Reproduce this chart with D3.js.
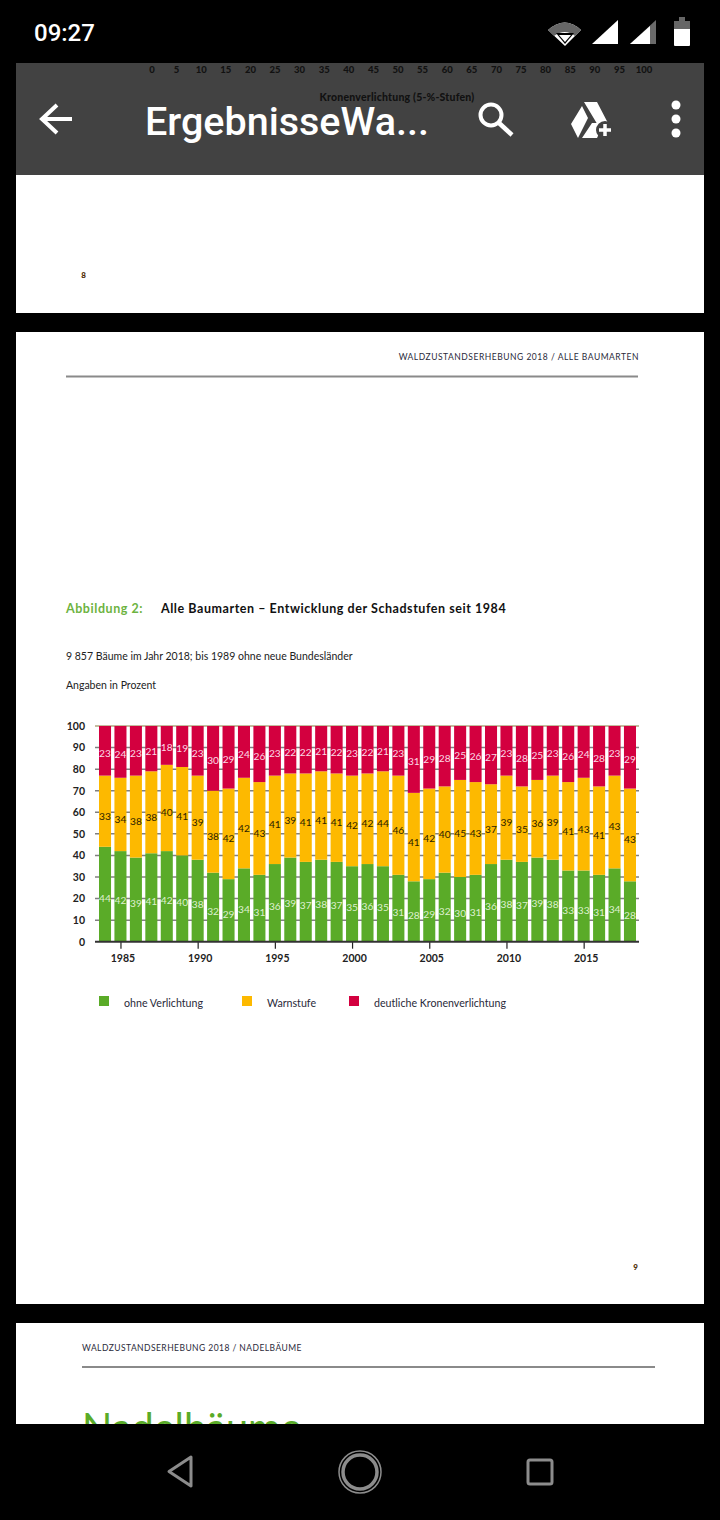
<!DOCTYPE html>
<html lang="de">
<head>
    <meta charset="UTF-8">
    <title>Alle Baumarten</title>
    <style>
        html, body { margin: 0; padding: 0; background: #000; }
        svg { display: block; }
        text { font-family: 'Lato', sans-serif; }
        .domain { display: none; }
    </style>
</head>
<body>
<script src="https://d3js.org/d3.v7.min.js"></script>
<script>

    const years = d3.range(1984, 2019);
    const ohneVerlichtung = [44, 42, 39, 41, 42, 40, 38, 32, 29, 34, 31, 36, 39, 37, 38, 37, 35, 36, 35, 31, 28, 29, 32, 30, 31, 36, 38, 37, 39, 38, 33, 33, 31, 34, 28];
    const warnstufe = [33, 34, 38, 38, 40, 41, 39, 38, 42, 42, 43, 41, 39, 41, 41, 41, 42, 42, 44, 46, 41, 42, 40, 45, 43, 37, 39, 35, 36, 39, 41, 43, 41, 43, 43];
    const deutlich = [23, 24, 23, 21, 18, 19, 23, 30, 29, 24, 26, 23, 22, 22, 21, 22, 23, 22, 21, 23, 31, 29, 28, 25, 26, 27, 23, 28, 25, 23, 26, 24, 28, 23, 29];
    const seriesNames = ['ohne Verlichtung', 'Warnstufe', 'deutliche Kronenverlichtung'];
    const seriesColours = ['#5aab28', '#fdb900', '#d3003f'];
    const labelColours = ['#dff0d0', '#2b2200', '#fbdbe6'];
    const labelNudge = [7.5, 8.5, 6];
    const yTicks = [0, 10, 20, 30, 40, 50, 60, 70, 80, 90, 100];
    const xTicks = [1985, 1990, 1995, 2000, 2005, 2010, 2015];
    const strayTicks = [0, 5, 10, 15, 20, 25, 30, 35, 40, 45, 50, 55, 60, 65, 70, 75, 80, 85, 90, 95, 100];

    const svg = d3.select('body').append('svg')
        .attr('width', 720)
        .attr('height', 1520);

    svg.append('rect').attr('width', 720).attr('height', 1520).attr('fill', '#000');

    function addText(parent, str, x, y, size, colour, weight, anchor, spacing) {
        return parent.append('text')
            .attr('x', x)
            .attr('y', y)
            .attr('font-size', size)
            .attr('fill', colour)
            .attr('font-weight', weight || 400)
            .attr('text-anchor', anchor || 'start')
            .attr('letter-spacing', spacing || 0)
            .text(str);
    }

    // pdf pages
    svg.append('rect').attr('x', 16).attr('y', 175).attr('width', 688).attr('height', 138).attr('fill', '#fff');
    svg.append('rect').attr('x', 16).attr('y', 332).attr('width', 688).attr('height', 972).attr('fill', '#fff');
    svg.append('clipPath').attr('id', 'page3')
        .append('rect').attr('x', 16).attr('y', 1323).attr('width', 688).attr('height', 101);
    const page3 = svg.append('g').attr('clip-path', 'url(#page3)');
    page3.append('rect').attr('x', 16).attr('y', 1323).attr('width', 688).attr('height', 101).attr('fill', '#fff');
    addText(page3, 'WALDZUSTANDSERHEBUNG 2018 / NADELBÄUME', 82, 1351, 8.5, '#2a2a3a', 400, 'start', 0.45);
    page3.append('line').attr('x1', 82).attr('x2', 655).attr('y1', 1367).attr('y2', 1367).attr('stroke', '#8a8a8a').attr('stroke-width', 2);
    addText(page3, 'Nadelbäume', 82, 1442, 39.7, '#5aab28');

    // toolbar with the page behind it showing through
    svg.append('rect').attr('x', 16).attr('y', 63).attr('width', 688).attr('height', 112).attr('fill', '#424242');
    const strayX = d3.scaleLinear().domain([0, 100]).range([152, 644]);
    svg.append('g').selectAll('text')
        .data(strayTicks)
        .enter().append('text')
        .attr('x', d => strayX(d))
        .attr('y', 73)
        .attr('text-anchor', 'middle')
        .attr('font-size', 9.5)
        .attr('font-weight', 900)
        .attr('fill', '#111')
        .text(d => d);
    addText(svg, 'Kronenverlichtung (5-%-Stufen)', 397, 101, 10.5, '#111', 900, 'middle', 0.2);

    addText(svg, '09:27', 34, 41, 24, '#fff', 500).style('font-family', 'Roboto');
    addText(svg, 'ErgebnisseWa...', 145, 135, 39.5, '#fff', 500).style('font-family', 'Roboto');

    // status bar icons
    svg.append('path').attr('d', 'M548 30 Q565 15 581 30 L565 46 Z').attr('fill', '#fff');
    svg.append('path').attr('d', 'M548 30 Q565 15 581 30 L575 36 Q565 28 554 36 Z').attr('fill', '#666');
    svg.append('path').attr('d', 'M556 33 L574 33 L565 44 Z').attr('fill', '#000');
    svg.append('path').attr('d', 'M559 35 L571 35 L565 42 Z').attr('fill', '#fff');
    svg.append('path').attr('d', 'M592 44 L618 20 L618 44 Z').attr('fill', '#fff');
    svg.append('path').attr('d', 'M630 44 L656 20 L656 44 Z').attr('fill', '#6a6a6a');
    svg.append('path').attr('d', 'M630 44 L650 26 L650 44 Z').attr('fill', '#fff');
    svg.append('rect').attr('x', 674).attr('y', 21).attr('width', 16).attr('height', 25).attr('rx', 1).attr('fill', '#fff');
    svg.append('rect').attr('x', 674).attr('y', 21).attr('width', 16).attr('height', 8).attr('fill', '#666');
    svg.append('rect').attr('x', 679).attr('y', 17).attr('width', 6).attr('height', 4).attr('fill', '#666');

    // toolbar icons
    svg.append('path').attr('d', 'M72 119 H43 M57 105 L42 119 L57 133').attr('fill', 'none').attr('stroke', '#fff').attr('stroke-width', 4);
    svg.append('circle').attr('cx', 491).attr('cy', 115).attr('r', 10.5).attr('fill', 'none').attr('stroke', '#fff').attr('stroke-width', 4);
    svg.append('line').attr('x1', 499).attr('y1', 123).attr('x2', 512).attr('y2', 135).attr('stroke', '#fff').attr('stroke-width', 4.5);
    svg.append('path').attr('d', 'M584 102 L597 102 L610 127 L599 127 Z M582 106 L588 118 L578 138 L571 124 Z M592 123 L604 123 L597 138 L582 138 Z').attr('fill', '#fff');
    svg.append('circle').attr('cx', 605).attr('cy', 130).attr('r', 9).attr('fill', '#424242');
    svg.append('path').attr('d', 'M605 124 V136 M599 130 H611').attr('stroke', '#fff').attr('stroke-width', 3.5);
    svg.append('g').selectAll('circle')
        .data([105, 119, 133].map(cy => ({cy: cy})))
        .enter().append('circle')
        .attr('cx', 676).attr('cy', d => d.cy).attr('r', 4.5).attr('fill', '#fff');

    // bottom nav
    svg.append('path').attr('d', 'M191 1457 L169 1471.5 L191 1486 Z').attr('fill', 'none').attr('stroke', '#8c8c8c').attr('stroke-width', 3).attr('stroke-linejoin', 'round');
    svg.append('circle').attr('cx', 360).attr('cy', 1472).attr('r', 21).attr('fill', 'none').attr('stroke', '#8c8c8c').attr('stroke-width', 1.5);
    svg.append('circle').attr('cx', 360).attr('cy', 1472).attr('r', 17).attr('fill', 'none').attr('stroke', '#8c8c8c').attr('stroke-width', 3.5);
    svg.append('rect').attr('x', 528).attr('y', 1460).attr('width', 24).attr('height', 24).attr('rx', 2).attr('fill', 'none').attr('stroke', '#8c8c8c').attr('stroke-width', 3);

    // page text
    addText(svg, '8', 83.5, 278, 8, '#4a2a00', 900, 'middle');
    addText(svg, '9', 635.5, 1269.5, 8, '#4a2a00', 900, 'middle');
    addText(svg, 'WALDZUSTANDSERHEBUNG 2018 / ALLE BAUMARTEN', 639, 360, 8.5, '#2a2a3a', 400, 'end', 0.52);
    svg.append('line').attr('x1', 66).attr('x2', 638).attr('y1', 376.5).attr('y2', 376.5).attr('stroke', '#8a8a8a').attr('stroke-width', 2);
    addText(svg, 'Abbildung 2:', 66, 612.5, 12.5, '#6db33f', 700, 'start', 0.55);
    addText(svg, 'Alle Baumarten – Entwicklung der Schadstufen seit 1984', 161, 612.5, 12.5, '#111', 700, 'start', 0.55);
    addText(svg, '9 857 Bäume im Jahr 2018; bis 1989 ohne neue Bundesländer', 66, 659.5, 10.5, '#222');
    addText(svg, 'Angaben in Prozent', 66, 688.5, 10.5, '#222');

    // chart
    const x = d3.scaleBand().domain(years).range([97.3, 637.7]).paddingInner(0.22).paddingOuter(0.11);
    const y = d3.scaleLinear().domain([0, 100]).range([941.7, 726]);

    const yAxis = svg.append('g')
        .attr('transform', 'translate(95,0)')
        .call(d3.axisLeft(y).tickValues(yTicks).tickSize(0).tickPadding(10));
    yAxis.selectAll('text').attr('font-size', 10.5).attr('font-weight', 700).attr('fill', '#222').style('font-family', 'Lato');

    svg.append('g').selectAll('line')
        .data(yTicks.slice(1))
        .enter().append('line')
        .attr('x1', 95)
        .attr('x2', 639)
        .attr('y1', d => y(d))
        .attr('y2', d => y(d))
        .attr('stroke', d => d == 100 ? '#8a7a40' : '#808080')
        .attr('stroke-width', d => d == 100 ? 1.2 : 1.5);

    const rows = years.map((year, i) => ({
        year: year,
        [seriesNames[0]]: ohneVerlichtung[i],
        [seriesNames[1]]: warnstufe[i],
        [seriesNames[2]]: deutlich[i]
    }));
    const stacked = d3.stack().keys(seriesNames)(rows);

    const layers = svg.append('g').selectAll('g')
        .data(stacked)
        .enter().append('g')
        .attr('fill', (d, i) => seriesColours[i]);

    layers.selectAll('rect')
        .data(d => d)
        .enter().append('rect')
        .attr('x', d => x(d.data.year))
        .attr('y', d => y(d[1]))
        .attr('width', x.bandwidth())
        .attr('height', d => y(d[0]) - y(d[1]));

    layers.selectAll('text')
        .data((d, i) => d.map(p => ({p: p, layer: i})))
        .enter().append('text')
        .attr('x', d => x(d.p.data.year) + x.bandwidth() / 2)
        .attr('y', d => (y(d.p[0]) + y(d.p[1])) / 2 + labelNudge[d.layer])
        .attr('text-anchor', 'middle')
        .attr('font-size', 10.2)
        .attr('fill', d => labelColours[d.layer])
        .text(d => d.p[1] - d.p[0]);

    const xAxis = svg.append('g')
        .attr('transform', 'translate(0,' + y(0) + ')')
        .call(d3.axisBottom(d3.scalePoint().domain(years).range([x(1984) + x.bandwidth() / 2, x(2018) + x.bandwidth() / 2]))
            .tickValues(xTicks).tickSize(7).tickPadding(6));
    xAxis.selectAll('text').attr('font-size', 10.5).attr('font-weight', 700).attr('fill', '#222').attr('dx', 2).style('font-family', 'Lato');
    xAxis.selectAll('line').attr('stroke', '#222').attr('stroke-width', 1.2);
    svg.append('line').attr('x1', 95).attr('x2', 639).attr('y1', y(0)).attr('y2', y(0)).attr('stroke', '#333').attr('stroke-width', 2);

    // legend
    const legendSwatch = d3.scaleOrdinal().domain(seriesNames).range([99, 242, 349]);
    const legend = svg.append('g').selectAll('g')
        .data(seriesNames)
        .enter().append('g')
        .attr('transform', d => 'translate(' + legendSwatch(d) + ',996)');
    legend.append('rect')
        .attr('width', 10)
        .attr('height', 10)
        .attr('fill', (d, i) => seriesColours[i]);
    legend.append('text')
        .attr('x', 25)
        .attr('y', 11)
        .attr('font-size', 10.65)
        .attr('fill', '#2a2a3a')
        .text(d => d);

</script>
</body>
</html>
